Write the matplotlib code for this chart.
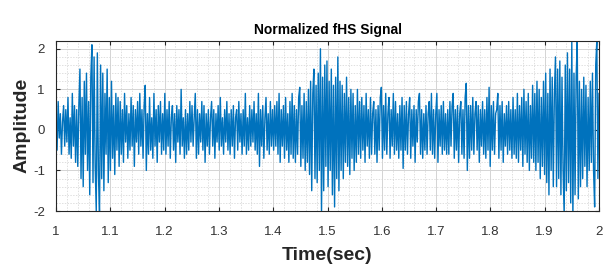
import numpy as np
import matplotlib
matplotlib.use("Agg")
import matplotlib.pyplot as plt
from matplotlib.ticker import MultipleLocator

# Signal amplitudes (time 1.0 -> 2.0 s, rows of 0.04 s)
amplitude = [
    0.3,-0.5,0.7,-0.2,0.4,-0.6,0.2,0.6,-0.4,0.5,-0.3,0.8,-0.6,0.3,-0.7,0.9,-0.4,0.6,-0.8,0.5,
    -0.9,0.6,1.5,-1.2,0.8,-1.4,1.2,-0.6,1.4,-1.0,0.7,-1.6,1.3,2.1,-1.3,1.8,-0.9,-2.0,1.9,-1.1,
    -2.1,1.6,-1.2,1.4,-1.5,0.9,-0.6,1.5,-1.3,0.8,-1.0,1.2,-0.7,0.6,-1.1,0.9,-0.5,0.8,-0.9,0.7,
    -0.6,0.5,-0.8,0.9,-0.3,0.6,-0.7,0.4,-0.5,0.8,-0.4,0.6,-0.9,0.5,-0.3,0.7,-0.6,0.9,-0.4,0.5,
    -0.7,0.6,1.1,-1.0,0.4,-0.6,0.8,-0.5,0.3,-0.7,0.9,-0.4,0.5,-0.8,0.6,-0.3,0.7,-0.6,0.4,-0.5,
    0.9,-0.6,0.5,-0.4,0.7,-0.7,0.3,0.6,-0.5,0.4,-0.8,0.6,-0.3,0.5,-0.6,1.0,-0.4,0.3,-0.7,0.5,
    -0.6,0.4,-0.5,0.7,-0.3,0.6,-0.4,0.3,0.9,-0.7,0.5,-0.6,0.4,-0.3,0.7,-0.5,0.6,-0.8,0.4,-0.4,
    0.5,-0.6,0.3,0.7,-0.4,0.5,-0.7,0.4,-0.3,0.6,-0.5,0.8,-0.4,0.3,-0.6,0.5,-0.3,0.7,-0.5,0.4,
    -0.6,0.5,-0.4,0.6,-0.7,0.3,0.5,-0.5,0.7,-0.3,0.4,-0.6,0.5,-0.4,0.9,-0.6,0.3,-0.5,0.6,-0.4,
    0.5,-0.3,0.7,-0.5,0.4,-0.6,0.9,-0.9,0.5,-0.4,0.6,-0.7,0.3,0.8,-0.5,0.4,-0.6,0.7,-0.4,0.5,
    -0.5,0.6,-0.4,0.7,-0.6,0.9,-0.8,0.5,-0.4,0.6,-0.7,0.8,-0.5,0.4,-0.8,0.7,-0.6,0.9,-0.7,0.6,
    -0.8,0.5,-0.6,0.8,1.05,-0.9,0.6,-0.7,0.9,-1.0,0.7,-0.8,1.0,-1.1,1.2,-1.5,0.9,1.5,-1.2,1.1,
    -1.3,1.4,-1.0,2.0,-2.1,1.3,-1.5,1.6,-0.9,1.7,-1.4,1.2,-1.0,1.5,-1.6,1.1,-1.9,1.3,-1.2,1.8,
    -1.5,1.2,-1.0,1.1,-1.2,0.9,-0.8,1.3,-0.9,0.8,-1.1,1.0,-0.7,0.9,-1.0,0.6,-0.8,1.0,-0.6,0.7,
    -0.7,0.8,-0.5,0.6,-0.8,0.9,-0.4,0.5,-0.7,0.8,-0.6,0.4,0.7,-0.6,0.5,-0.8,0.6,-0.5,0.8,1.05,
    -0.7,0.6,-0.5,0.9,-0.6,0.4,0.8,-0.7,0.5,-0.4,0.9,-0.6,0.7,-0.5,0.4,-0.7,0.6,-0.5,0.8,-0.95,
    0.6,-0.5,0.7,-0.6,0.4,0.8,-0.7,0.5,-0.4,0.6,-0.8,0.5,-0.3,0.7,0.9,-0.6,0.5,-0.7,0.4,-0.5,
    0.6,-0.6,0.4,0.7,-0.5,0.9,-0.6,0.5,-0.7,0.4,0.9,-0.8,0.5,-0.4,0.6,-0.6,0.7,-0.5,0.4,-0.6,
    0.5,-0.6,0.7,-0.4,0.6,0.9,-0.7,0.5,-0.5,0.6,-0.8,0.4,0.7,-0.6,0.5,-0.7,0.8,1.15,-1.0,0.6,
    -0.7,0.6,-0.5,0.8,-0.6,0.4,0.7,-0.5,0.6,-0.8,0.5,-0.4,0.7,-0.6,0.5,-0.7,0.8,-0.5,1.05,-0.9,
    0.6,-0.5,0.7,-0.6,0.4,0.5,0.9,-0.7,0.6,-0.5,0.7,-0.8,0.4,-0.4,0.6,-0.6,0.7,-0.5,0.5,-0.7,
    0.8,-0.6,0.5,-0.7,0.9,-0.8,0.6,-0.5,0.8,-0.9,1.0,-0.6,0.7,-0.8,0.9,-1.0,0.6,-0.7,1.1,-0.8,
    0.9,-1.0,1.2,-0.8,1.0,-1.2,0.8,-0.9,1.2,-1.1,1.4,-1.3,0.9,-1.6,1.5,-1.0,1.3,-1.4,0.9,1.8,
    -1.4,1.5,-1.2,1.7,-1.6,1.3,-1.0,-2.1,1.6,-1.5,1.9,-1.3,1.5,-1.8,2.2,-2.2,1.4,-1.6,1.3,2.2,
    -1.7,1.2,-1.4,1.0,-1.2,1.3,-0.9,1.1,-1.4,0.8,-1.0,1.2,-0.8,1.4,-1.0,-1.9,1.6,2.2,-1.2,0.9,
]
t_start, t_end = 1.0, 2.0
x_ticks = [1.0, 1.1, 1.2, 1.3, 1.4, 1.5, 1.6, 1.7, 1.8, 1.9, 2.0]
x_tick_labels = ["1", "1.1", "1.2", "1.3", "1.4", "1.5", "1.6", "1.7", "1.8", "1.9", "2"]
y_ticks = [-2, -1, 0, 1, 2]

time = np.linspace(t_start, t_end, len(amplitude))

plt.rcParams['font.family'] = ['Liberation Sans', 'DejaVu Sans']
plt.rcParams['axes.unicode_minus'] = False

fig = plt.figure(figsize=(6.16, 2.79), dpi=100)
ax = fig.add_axes([56/616, 1 - 211/279, (599-56)/616, (211-40.7)/279])

ax.plot(time, amplitude, color='#0072BD', lw=1.0)

ax.set_xlim(t_start, t_end)
ax.set_ylim(-2, 2.2)
ax.set_xticks(x_ticks)
ax.set_xticklabels(x_tick_labels)
ax.set_yticks(y_ticks)
ax.xaxis.set_minor_locator(MultipleLocator(0.02))
ax.yaxis.set_minor_locator(MultipleLocator(0.2))

ax.grid(which='major', color='#d4d4d4', lw=0.7, ls='-')
ax.grid(which='minor', color='#d2d2d2', lw=0.5, ls=(0, (2, 2)))
ax.set_axisbelow(True)

ax.tick_params(which='major', direction='in', length=3, width=0.8, top=True, right=True,
               labelsize=9.5, labelcolor='#333333', color='#262626')
ax.tick_params(axis='x', which='major', pad=11)
ax.tick_params(axis='y', which='major', pad=8)
ax.tick_params(which='minor', length=0, top=True, right=True)
for s in ax.spines.values():
    s.set_color('#262626')
    s.set_linewidth(0.8)

ax.set_title('Normalized fHS Signal', fontsize=10, fontweight='bold', pad=5)
ax.set_xlabel('Time(sec)', fontsize=14, fontweight='bold', color='#262626', labelpad=6)
ax.set_ylabel('Amplitude', fontsize=14, fontweight='bold', color='#262626', labelpad=2)

fig.savefig('out.png', dpi=100)
